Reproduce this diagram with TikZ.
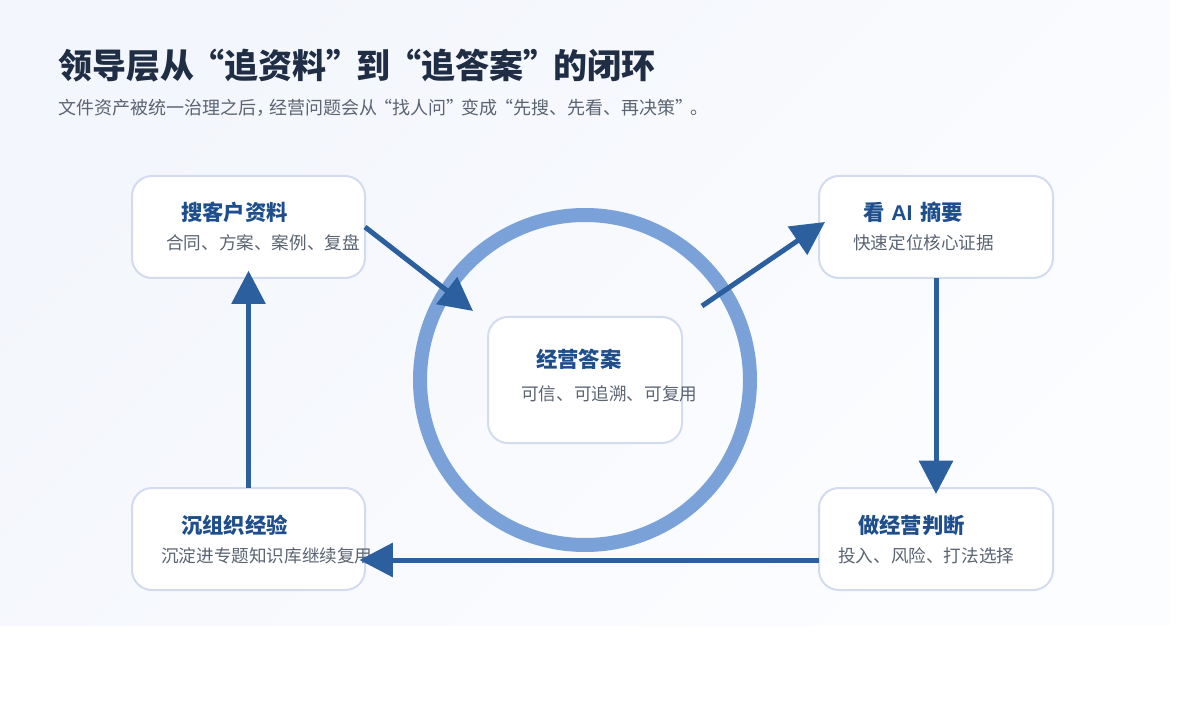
\documentclass[tikz,border=0pt]{standalone}
\usepackage{fontspec}
\setmainfont{Noto Sans CJK SC}
\newfontfamily\latinpart{Liberation Sans}
\usetikzlibrary{arrows.meta}
\definecolor{bgA}{HTML}{F3F6FC}
\definecolor{bgB}{HTML}{FCFDFF}
\definecolor{ringc}{HTML}{7BA1D9}
\definecolor{flowc}{HTML}{2C5F9E}
\definecolor{edgec}{HTML}{D2DCEE}
\definecolor{titlec}{HTML}{1F2D45}
\definecolor{subc}{HTML}{5A6472}
\definecolor{headc}{HTML}{1F4E8C}
\newcommand{\tk}{\kern-2.8pt}
\newcommand{\sk}{\kern-2pt}
\tikzset{
  x=0.75pt,y=-0.75pt,
  card/.style={draw=edgec,line width=1.5pt,fill=white,rounded corners=15pt,inner sep=0pt,outer sep=0pt,anchor=north west},
  flow/.style={draw=flowc,line width=3.75pt,-{Triangle[length=25pt,width=25pt,fill=flowc]}},
  maintitle/.style={anchor=base west,inner sep=0pt,text=titlec,font=\fontsize{25.5pt}{30pt}\selectfont\bfseries},
  subtitle/.style={anchor=base west,inner sep=0pt,text=subc,font=\fontsize{13.5pt}{16pt}\selectfont},
  cardhead/.style={anchor=base west,inner sep=0pt,text=headc,font=\fontsize{16pt}{20pt}\selectfont\bfseries},
  cardbody/.style={anchor=base west,inner sep=0pt,text=subc,font=\fontsize{13.2pt}{16pt}\selectfont},
}
\begin{document}
\begin{tikzpicture}
\useasboundingbox (0,0) rectangle (1200,720);
\fill[white] (0,0) rectangle (1200,720);
\shade[shading=axis,left color=bgA,right color=bgB,shading angle=45] (0,0) rectangle (1170,625);
\node[maintitle] (t) at (58,79) {领导层从{\tk}“追资料”{\tk}到{\tk}“追答案”{\tk}的闭环};
\node[subtitle] (s) at (58,114.5) {文件资产被统一治理之后，{\kern-3.75pt}经营问题会从{\sk}“找人问”{\sk}变成{\sk}“先搜、先看、再决策”{\sk}。};
\node[draw=ringc,line width=10.5pt,circle,minimum size=247.5pt,inner sep=0pt,outer sep=0pt] (ring) at (585,380) {};
\node[card,minimum width=174.75pt,minimum height=76.5pt] (search) at (132,176) {};
\node[card,minimum width=175.5pt,minimum height=76.5pt] (ai) at (819,176) {};
\node[card,minimum width=174.75pt,minimum height=76.5pt] (org) at (132,488) {};
\node[card,minimum width=175.5pt,minimum height=76.5pt] (judge) at (819,488) {};
\node[card,minimum width=145.5pt,minimum height=94.5pt] (core) at (488,317) {};
\node[cardhead] (h1) at (181,221) {搜客户资料};
\node[cardbody] (b1) at (166,250) {合同、方案、案例、复盘};
\node[cardhead] (h2) at (863,221) {看{\latinpart\ \kern0.6pt AI\kern0.6pt\ \kern0.8pt}摘要};
\node[cardbody] (b2) at (853,250) {快速定位核心证据};
\node[cardhead] (h3) at (181,533) {沉组织经验};
\node[cardbody] (b3) at (161,562) {沉淀进专题知识库继续复用};
\node[cardhead] (h4) at (858,533) {做经营判断};
\node[cardbody] (b4) at (838,562) {投入、风险、打法选择};
\node[cardhead] (h5) at (536,368) {经营答案};
\node[cardbody] (b5) at (521,400) {可信、可追溯、可复用};
\coordinate (coreIn) at (473,311);
\coordinate (coreOut) at (702,306);
\coordinate (aiIn) at (825,222);
\coordinate (judgeOut) at (819,560);
\coordinate (orgIn) at (359.5,560);
\draw[flow] (search.east) -- (coreIn);
\draw[flow] (coreOut) -- (aiIn);
\draw[flow,shorten >=-4.5pt] (ai.south) -- (judge.north);
\draw[flow] (judgeOut) -- (orgIn);
\draw[flow,shorten >=-5.5pt] (org.north) -- (search.south);
\end{tikzpicture}
\end{document}
